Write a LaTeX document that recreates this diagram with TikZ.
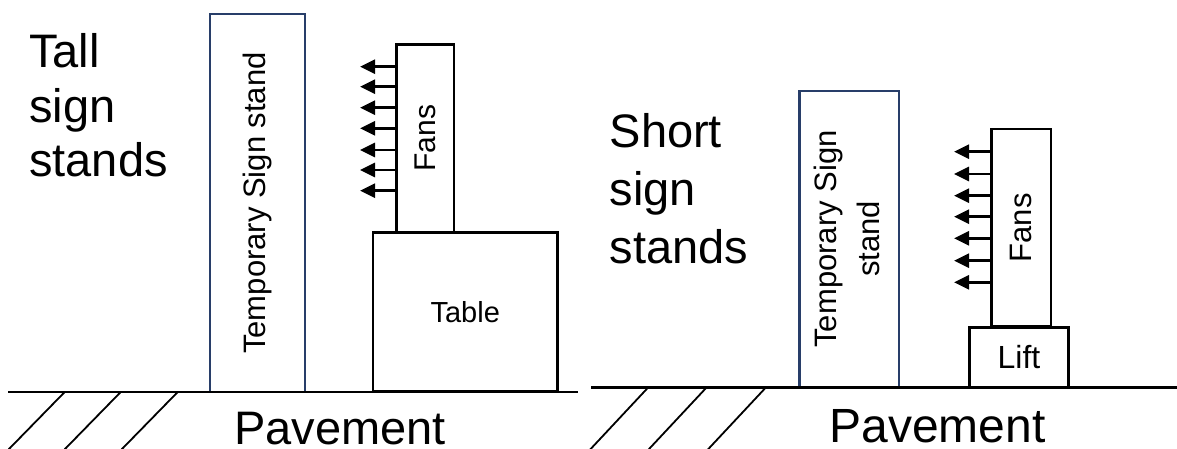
\documentclass[tikz,border=0pt]{standalone}
\usepackage{fontspec}
\setmainfont{Liberation Sans}
\usetikzlibrary{arrows.meta}
\definecolor{standblue}{RGB}{40,62,105}
\begin{document}
\begin{tikzpicture}[x=1pt,y=-1pt,
  box/.style={draw=black,line width=2.6pt,inner sep=0pt,minimum width=#1},
  stand/.style={draw=standblue,line width=2.2pt,inner sep=0pt},
  ground/.style={line width=2.4pt,line cap=rect},
  hatch/.style={line width=1.8pt},
  fanarrow/.style={line width=2.8pt,-{Triangle[length=15pt,width=14pt]}},
  title/.style={anchor=north west,inner sep=0pt,align=left},
  pave/.style={anchor=base,inner sep=0pt,font=\fontsize{47}{56}\selectfont}]
\useasboundingbox (0,0) rectangle (1177,448);

% ---------- tall sign stands ----------
\node[title,font=\fontsize{47}{54.5}\selectfont] (titleL) at (29,33.5) {Tall\\sign\\stands};
\node[stand,minimum width=95pt,minimum height=377.4pt] (standL) at (257.5,203)
  {\rotatebox{90}{\fontsize{31}{37}\selectfont Temporary Sign stand}};
\node[box=57.3pt,minimum height=188pt] (fansL) at (425.4,138.3)
  {\rotatebox{90}{\fontsize{30}{36}\selectfont Fans}};
\node[box=184.3pt,minimum height=159.4pt,font=\fontsize{29}{35}\selectfont] (table) at (465.2,312) {Table};

\foreach \yy [count=\i] in {66.7,86.7,107.7,128.3,150,170,190.7}{
  \coordinate (tipL\i) at (360,\yy);
  \draw[fanarrow] (fansL.west |- tipL\i) -- (tipL\i);
}

\draw[ground] (9.3,391.7) -- (576.7,391.7);
\foreach \xx in {65,121,178}
  \draw[hatch] (\xx,391.7) -- ++(-60,61.4);
\node[pave] (paveL) at (340,444) {Pavement};

% ---------- short sign stands ----------
\node[title,font=\fontsize{47}{58}\selectfont] (titleR) at (609.5,113) {Short\\sign\\stands};
\node[stand,minimum width=99.2pt,minimum height=296.6pt] (standR) at (849.1,239)
  {\rotatebox{90}{\fontsize{31}{43}\selectfont\begin{tabular}{@{}c@{}}Temporary Sign\\stand\end{tabular}}};
\node[box=59.3pt,minimum height=197.5pt] (fansR) at (1021.4,227.8)
  {\rotatebox{90}{\fontsize{31}{37}\selectfont Fans}};
\node[box=99.4pt,minimum height=60pt,font=\fontsize{32}{38}\selectfont] (lift) at (1019,357.3) {Lift};

\foreach \yy [count=\i] in {151.7,174,195.7,216.7,238.3,260.7,282.3}{
  \coordinate (tipR\i) at (954,\yy);
  \draw[fanarrow] (fansR.west |- tipR\i) -- (tipR\i);
}

\draw[ground] (591.7,387.3) -- (1180,387.3);
\foreach \xx in {648.3,706.7,766}
  \draw[hatch] (\xx,387.3) -- ++(-60,64.2);
\node[pave,font=\fontsize{48}{56}\selectfont] (paveR) at (937.5,442) {Pavement};
\end{tikzpicture}
\end{document}
